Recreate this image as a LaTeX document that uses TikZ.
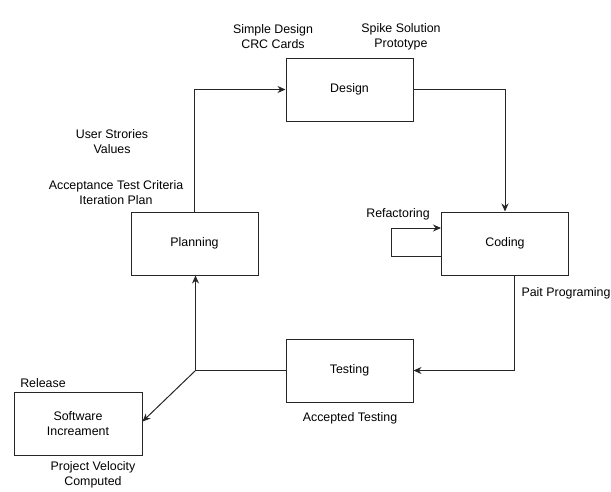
\documentclass[tikz,border=0pt]{standalone}
\usepackage{fontspec}
\setmainfont{Liberation Sans}
\usetikzlibrary{arrows.meta}
\begin{document}
\begin{tikzpicture}[x=1pt,y=-1pt,
  phase/.style={draw=black!85,line width=1pt,minimum width=127pt,minimum height=63pt,inner sep=0pt,align=center,font=\fontsize{12.4}{14.5}\selectfont},
  lbl/.style={align=center,inner sep=0pt,font=\fontsize{12.4}{15}\selectfont},
  flow/.style={draw=black!85,line width=1pt},
  tip/.style={-{Stealth[length=8pt,width=7pt]}}]
\useasboundingbox (0,0) rectangle (611,491);
% phase boxes
\node[phase] (design)   at (349.5,89.5)  {\raisebox{-1.5pt}{Design}};
\node[phase] (coding)   at (505,243.5)   {\raisebox{-1.5pt}{Coding}};
\node[phase] (planning) at (194.5,243.5) {\raisebox{-1.5pt}{Planning}};
\node[phase] (testing)  at (349.5,370.5) {\raisebox{-1.5pt}{Testing}};
\node[phase,minimum width=128pt] (release) at (78,423.5) {Software\\Increament};
% labels
\node[lbl] (l1) at (273,37)  {Simple Design\\CRC Cards};
\node[lbl] (l2) at (401,37)  {Spike Solution\\Prototype};
\node[lbl] (l3) at (112,142) {User Strories\\Values};
\node[lbl] (l4) at (116,192.5) {Acceptance Test Criteria\\Iteration Plan};
\node[lbl] (l5) at (398,214) {Refactoring};
\node[lbl] (l6) at (566,293) {Pait Programing};
\node[lbl] (l7) at (350,418.5) {Accepted Testing};
\node[lbl] (l8) at (43,383) {Release};
\node[lbl] (l9) at (93,474.5) {Project Velocity\\Computed};
% junction below Planning
\coordinate (j) at (195.5,370.5);
% connectors
\draw[flow,tip] (planning.north) |- (design.west);
\draw[flow,tip] (design.east) -| (coding.north);
\draw[flow,tip] ([xshift=9pt]coding.south) |- (testing.east);
\draw[flow] (testing.west) -- (j);
\draw[flow,tip] (j) -- ([xshift=1pt]planning.south);
\draw[flow,tip] (j) -- ([yshift=2pt]release.east);
% refactoring self-loop
\draw[flow,tip] ([yshift=-12.5pt]coding.west) -- ++(-50,0) |- ([yshift=15.5pt]coding.west);
\end{tikzpicture}
\end{document}
